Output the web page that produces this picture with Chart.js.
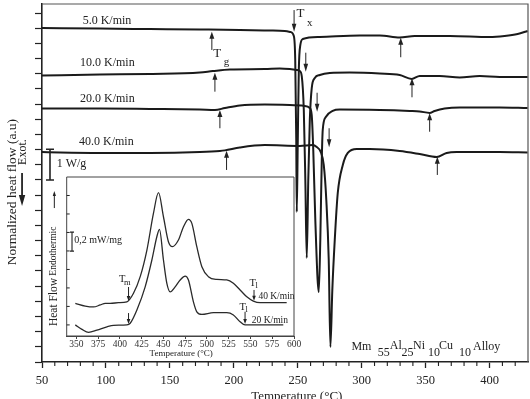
<!DOCTYPE html>
<html>
<head>
<meta charset="utf-8">
<script src="https://cdn.jsdelivr.net/npm/chart.js@4/dist/chart.umd.min.js"></script>
<style>
  html, body { margin: 0; padding: 0; background: #ffffff; }
  #wrap { position: relative; width: 530px; height: 399px; }
  #inset { position: absolute; left: 40px; top: 170px; }
</style>
</head>
<body>
<div id="wrap">
  <canvas id="main" width="530" height="399"></canvas>
  <canvas id="inset" width="262" height="192"></canvas>
</div>
<script>
// ---------------- DATA (main DSC traces, temperature in °C, normalized heat flow in a.u.) ----------------
const temps5  = [50, 95.3, 134.4, 173.4, 204.7, 228.1, 239.8, 244.5, 246.9, 248.0, 248.8, 249.2, 250.0, 250.8, 252.0, 253.9, 267.2, 298.4, 314.1, 329.7, 341.4, 368.8, 400, 411.7, 421.9, 429.7];
const flow5   = [22.02, 21.98, 21.95, 21.92, 21.89, 21.85, 21.82, 21.75, 21.49, 19.91, 14.63, 9.89, 14.63, 19.25, 20.90, 21.29, 21.42, 21.52, 21.52, 21.39, 21.49, 21.49, 21.42, 21.49, 21.62, 21.82];

const temps10 = [50, 95.3, 134.4, 173.4, 183.6, 196.9, 224.2, 235.9, 243.75, 249.2, 251.6, 253.1, 254.7, 255.9, 257.0, 258.2, 259.4, 260.9, 263.3, 267.2, 275.0, 290.6, 314.1, 329.7, 339.1, 345.3, 360.9, 376.6, 392.2, 407.8, 429.7];
const flow10  = [18.89, 18.95, 18.99, 19.08, 19.18, 19.28, 19.31, 19.35, 19.31, 19.25, 19.18, 18.85, 16.61, 12.00, 6.86, 12.00, 15.95, 18.06, 18.72, 18.92, 19.05, 19.08, 19.02, 18.92, 18.66, 18.85, 18.85, 18.75, 18.85, 18.79, 18.79];

const temps20 = [50, 95.3, 134.4, 173.4, 185.2, 193.0, 204.7, 224.2, 243.75, 255.5, 259.4, 260.9, 262.1, 263.7, 266.4, 267.6, 268.75, 269.5, 271.9, 277.3, 282.8, 314.1, 337.5, 345.3, 353.1, 357.0, 364.8, 376.6, 407.8, 429.7];
const flow20  = [16.71, 16.71, 16.68, 16.64, 16.61, 16.74, 16.91, 16.97, 16.94, 16.88, 16.74, 16.28, 13.98, 9.36, 4.61, 8.04, 13.32, 15.29, 16.15, 16.55, 16.64, 16.61, 16.55, 16.52, 16.42, 16.55, 16.71, 16.78, 16.78, 16.74];

const temps40 = [50, 64.1, 95.3, 134.4, 173.4, 189.1, 193.0, 204.7, 224.2, 251.6, 261.7, 264.8, 268.0, 270.3, 272.3, 274.2, 275.5, 277.0, 278.9, 281.25, 285.2, 289.1, 296.1, 306.25, 329.7, 345.3, 358.6, 366.4, 374.2, 407.8, 429.7];
const flow40  = [13.84, 13.81, 13.78, 13.78, 13.84, 13.91, 13.95, 14.14, 14.30, 14.24, 14.30, 14.17, 13.84, 12.99, 10.68, 6.72, 0.99, 4.75, 8.04, 11.14, 12.99, 13.78, 14.04, 14.04, 13.91, 13.71, 13.51, 13.78, 13.84, 13.84, 13.81];

const rateLabels = ['5.0 K/min', '10.0 K/min', '20.0 K/min', '40.0 K/min'];
const xTickValues = [50, 100, 150, 200, 250, 300, 350, 400];
const yTickValues = [0,1,2,3,4,5,6,7,8,9,10,11,12,13,14,15,16,17,18,19,20,21,22,23];

// ---------------- DATA (inset: melting region) ----------------
const insetTemps40 = [348.9, 360.3, 369.8, 377.5, 383.3, 389.0, 398.5, 408.1, 415.7, 423.4, 431.1, 438.6, 444.4, 450.1, 455.8, 460.4, 467.3, 473.1, 478.8, 482.7, 488.4, 494.2, 501.7, 511.4, 522.8, 530.4, 538.1, 545.8, 553.3, 561.0, 576.3, 591.6];
const insetFlow40  = [1.17, 1.02, 0.97, 1.08, 1.17, 1.17, 1.20, 1.25, 1.71, 2.61, 4.05, 6.03, 7.15, 5.85, 4.50, 4.23, 4.59, 5.31, 5.71, 5.49, 4.23, 3.15, 2.61, 2.46, 2.43, 2.25, 1.89, 1.52, 1.29, 1.20, 1.20, 1.20];
const insetTemps20 = [348.9, 356.5, 364.1, 373.7, 385.2, 392.8, 408.1, 411.9, 419.6, 429.1, 436.8, 442.5, 445.5, 450.1, 454.0, 457.8, 463.5, 469.3, 475.0, 478.8, 484.5, 488.4, 494.2, 507.5, 522.8, 530.4, 538.1, 543.8, 561.0, 587.7];
const insetFlow20  = [0.00, -0.24, -0.40, -0.28, -0.10, -0.02, 0.00, 0.09, 0.81, 2.06, 3.51, 4.77, 5.17, 3.51, 2.25, 1.79, 2.06, 2.43, 2.64, 2.43, 1.25, 0.71, 0.57, 0.66, 0.66, 0.54, 0.17, 0.00, 0.00, 0.00];
const insetXTicks  = [350, 375, 400, 425, 450, 475, 500, 525, 550, 575, 600];
const insetYTicks  = [0, 1, 2, 3, 4, 5, 6, 7];

// ---------------- helpers ----------------
const FAMILY = '"Liberation Serif", "Times New Roman", serif';
const INK = '#222222';
const pts = (xs, ys) => xs.map((x, i) => ({ x: x, y: ys[i] }));

function drawArrow(ctx, x, y1, y2, lw, hw, hl) {
  const dir = Math.sign(y2 - y1);
  ctx.lineWidth = lw;
  ctx.beginPath();
  ctx.moveTo(x, y1);
  ctx.lineTo(x, y2 - dir * hl * 0.5);
  ctx.stroke();
  ctx.beginPath();
  ctx.moveTo(x, y2);
  ctx.lineTo(x - hw, y2 - dir * hl);
  ctx.lineTo(x + hw, y2 - dir * hl);
  ctx.closePath();
  ctx.fill();
}
function drawBar(ctx, x, y1, y2, cap, lw) {
  ctx.lineWidth = lw;
  ctx.beginPath();
  ctx.moveTo(x, y1); ctx.lineTo(x, y2);
  ctx.moveTo(x - cap, y1); ctx.lineTo(x + cap, y1);
  ctx.moveTo(x - cap, y2); ctx.lineTo(x + cap, y2);
  ctx.stroke();
}

const annotPlugin = {
  id: 'annot',
  afterDraw(chart, args, o) {
    const ctx = chart.ctx;
    const xs = chart.scales.x, ys = chart.scales.y;
    const X = v => xs.getPixelForValue(v), Y = v => ys.getPixelForValue(v);
    const a = chart.chartArea;
    ctx.save();
    ctx.strokeStyle = INK; ctx.fillStyle = INK;
    if (o.frame) {
      ctx.strokeStyle = o.frame.color; ctx.lineWidth = o.frame.width;
      ctx.beginPath();
      if (o.frame.all) {
        ctx.rect(a.left, a.top, a.right - a.left, a.bottom - a.top);
      } else {
        ctx.moveTo(a.left, a.top); ctx.lineTo(a.right, a.top); ctx.lineTo(a.right, a.bottom);
      }
      ctx.stroke();
      ctx.strokeStyle = INK;
    }
    if (o.minorX) {
      ctx.lineWidth = o.minorX.width;
      ctx.beginPath();
      for (let v = o.minorX.from; v <= o.minorX.to; v += o.minorX.step) {
        if (o.minorX.skip.includes(v)) continue;
        const px = X(v);
        ctx.moveTo(px, a.bottom); ctx.lineTo(px, a.bottom + o.minorX.len);
      }
      ctx.stroke();
    }
    if (o.inwardY) {
      ctx.lineWidth = o.inwardY.width;
      ctx.beginPath();
      o.inwardY.values.forEach(v => { const py = Y(v); ctx.moveTo(a.left, py); ctx.lineTo(a.left + o.inwardY.len, py); });
      ctx.stroke();
    }
    (o.arrows || []).forEach(r => drawArrow(ctx, X(r.x), Y(r.from), Y(r.to), r.lw || 1, r.hw || 2.5, r.hl || 7));
    (o.bars || []).forEach(b => drawBar(ctx, X(b.x), Y(b.from), Y(b.to), b.cap, b.lw));
    (o.texts || []).forEach(t => {
      ctx.font = (t.size || 12) + 'px ' + FAMILY;
      ctx.textBaseline = 'middle';
      ctx.textAlign = t.align || 'center';
      if (t.rot) {
        ctx.save();
        ctx.translate(X(t.x), Y(t.y));
        ctx.rotate(t.rot * Math.PI / 180);
        ctx.fillText(t.t, 0, 0);
        ctx.restore();
      } else {
        ctx.fillText(t.t, X(t.x), Y(t.y));
      }
    });
    ctx.restore();
  }
};

const lineStyle = { borderColor: '#1a1a1a', borderWidth: 2, pointRadius: 0, tension: 0.3, cubicInterpolationMode: 'monotone', fill: false };

// ---------------- main chart ----------------
new Chart(document.getElementById('main'), {
  type: 'line',
  data: {
    datasets: [
      Object.assign({ label: rateLabels[0], data: pts(temps5, flow5) }, lineStyle),
      Object.assign({ label: rateLabels[1], data: pts(temps10, flow10) }, lineStyle),
      Object.assign({ label: rateLabels[2], data: pts(temps20, flow20) }, lineStyle),
      Object.assign({ label: rateLabels[3], data: pts(temps40, flow40) }, lineStyle)
    ]
  },
  plugins: [annotPlugin],
  options: {
    responsive: false, animation: false, devicePixelRatio: 1,
    layout: { padding: { left: 0, right: 2, top: 4, bottom: 0 } },
    plugins: {
      legend: { display: false }, tooltip: { enabled: false },
      annot: {
        frame: { color: '#555555', width: 1.2 },
        minorX: { from: 60, to: 420, step: 10, skip: xTickValues, len: 4, width: 1.1 },
        arrows: [
          { x: 182.8, from: 20.57, to: 21.77 },
          { x: 185.2, from: 17.82, to: 19.07 },
          { x: 189.1, from: 15.41, to: 16.61 },
          { x: 194.3, from: 12.66, to: 13.93 },
          { x: 330.5, from: 20.09, to: 21.38 },
          { x: 339.3, from: 17.45, to: 18.70 },
          { x: 353.1, from: 15.18, to: 16.39 },
          { x: 359.1, from: 12.33, to: 13.53 },
          { x: 247.1, from: 23.20, to: 21.77, hw: 2.3, hl: 8 },
          { x: 256.25, from: 20.39, to: 19.14, hw: 2.3, hl: 8 },
          { x: 265.1, from: 17.75, to: 16.50, hw: 2.3, hl: 8 },
          { x: 274.5, from: 15.41, to: 14.15, hw: 2.3, hl: 8 },
          { x: 34.4, from: 12.46, to: 10.28, lw: 1.8, hw: 3.2, hl: 11 }
        ],
        bars: [ { x: 56.25, from: 12.0, to: 14.02, cap: 4, lw: 1.6 } ],
        texts: [
          { t: rateLabels[0], x: 81.8, y: 22.50, size: 12, align: 'left' },
          { t: rateLabels[1], x: 79.7, y: 19.69, size: 12, align: 'left' },
          { t: rateLabels[2], x: 79.7, y: 17.38, size: 12, align: 'left' },
          { t: rateLabels[3], x: 78.9, y: 14.52, size: 12, align: 'left' },
          { t: '1 W/g', x: 61.5, y: 13.03, size: 12, align: 'left' },
          { t: 'T', x: 252.1, y: 22.99, size: 13 },
          { t: 'x', x: 259.4, y: 22.37, size: 11 },
          { t: 'T', x: 186.95, y: 20.30, size: 13 },
          { t: 'g', x: 194.3, y: 19.76, size: 11 },
          { t: 'Exot.', x: 35.2, y: 13.84, size: 12, rot: -90 },
          { t: 'Normalized heat flow (a.u)', x: 26.6, y: 11.2, size: 13.5, rot: -90 },
          { t: 'Temperature (°C)', x: 249.2, y: -2.31, size: 13 },
          { t: 'Mm', x: 291.95, y: 1.02, size: 12, align: 'left' },
          { t: '55', x: 312.5, y: 0.59, size: 12, align: 'left' },
          { t: 'Al', x: 321.9, y: 1.07, size: 12, align: 'left' },
          { t: '25', x: 331.0, y: 0.59, size: 12, align: 'left' },
          { t: 'Ni', x: 340.1, y: 1.07, size: 12, align: 'left' },
          { t: '10', x: 351.8, y: 0.59, size: 12, align: 'left' },
          { t: 'Cu', x: 360.4, y: 1.07, size: 12, align: 'left' },
          { t: '10', x: 376.0, y: 0.59, size: 12, align: 'left' },
          { t: 'Alloy', x: 387.0, y: 1.02, size: 12, align: 'left' }
        ]
      }
    },
    scales: {
      x: {
        type: 'linear', min: 50, max: 430,
        afterFit(s) { s.height = 37; },
        afterBuildTicks(s) { s.ticks = xTickValues.map(v => ({ value: v })); },
        grid: { drawOnChartArea: false, drawTicks: true, tickLength: 6, tickWidth: 1.3, tickColor: INK },
        border: { display: true, color: INK, width: 1.6 },
        ticks: { font: { family: FAMILY, size: 12.5 }, color: INK, padding: 5, maxRotation: 0, autoSkip: false }
      },
      y: {
        type: 'linear', min: 0, max: 23.6,
        afterFit(s) { s.width = 42; },
        afterBuildTicks(s) { s.ticks = yTickValues.map(v => ({ value: v })); },
        grid: { drawOnChartArea: false, drawTicks: true, tickLength: 7, tickWidth: 1.2, tickColor: INK },
        border: { display: true, color: INK, width: 1.6 },
        ticks: { display: false }
      }
    }
  }
});

// ---------------- inset chart ----------------
const insetLine = { borderColor: '#2a2a2a', borderWidth: 1.3, pointRadius: 0, tension: 0.3, cubicInterpolationMode: 'monotone', fill: false };
new Chart(document.getElementById('inset'), {
  type: 'line',
  data: {
    datasets: [
      Object.assign({ label: '40 K/min', data: pts(insetTemps40, insetFlow40) }, insetLine),
      Object.assign({ label: '20 K/min', data: pts(insetTemps20, insetFlow20) }, insetLine)
    ]
  },
  plugins: [annotPlugin],
  options: {
    responsive: false, animation: false, devicePixelRatio: 1,
    layout: { padding: { left: 26.7, right: 8, top: 7, bottom: 0 } },
    plugins: {
      legend: { display: false }, tooltip: { enabled: false },
      annot: {
        frame: { color: '#444444', width: 1, all: true },
        inwardY: { values: insetYTicks, len: 3, width: 1 },
        arrows: [
          { x: 324.8, from: 6.32, to: 7.24, lw: 1, hw: 1.6, hl: 5 },
          { x: 410.0, from: 2.05, to: 1.29, lw: 1, hw: 1.8, hl: 5 },
          { x: 410.0, from: 0.64, to: 0.05, lw: 1, hw: 1.8, hl: 5 },
          { x: 554.1, from: 1.89, to: 1.31, lw: 1, hw: 1.8, hl: 5 },
          { x: 543.8, from: 0.71, to: 0.05, lw: 1, hw: 1.8, hl: 5 }
        ],
        bars: [ { x: 345.1, from: 3.99, to: 5.02, cap: 2, lw: 1.1 } ],
        texts: [
          { t: 'Heat Flow', x: 324.0, y: 1.24, size: 11.5, rot: -90 },
          { t: 'Endothermic', x: 324.0, y: 3.99, size: 9.5, rot: -90 },
          { t: '0,2 mW/mg', x: 347.7, y: 4.55, size: 10, align: 'left' },
          { t: 'T', x: 402.8, y: 2.48, size: 10.5 },
          { t: 'm', x: 408.5, y: 2.26, size: 8.5 },
          { t: 'T', x: 552.6, y: 2.25, size: 10.5 },
          { t: 'l', x: 557.2, y: 2.10, size: 8.5 },
          { t: '40 K/min', x: 559.1, y: 1.52, size: 9.5, align: 'left' },
          { t: 'T', x: 541.2, y: 0.98, size: 10.5 },
          { t: 'l', x: 545.8, y: 0.83, size: 8.5 },
          { t: '20 K/min', x: 551.5, y: 0.26, size: 9.5, align: 'left' },
          { t: 'Temperature (°C)', x: 470.4, y: -1.57, size: 9 }
        ]
      }
    },
    scales: {
      x: {
        type: 'linear', min: 339, max: 600,
        afterFit(s) { s.height = 26; },
        afterBuildTicks(s) { s.ticks = insetXTicks.map(v => ({ value: v })); },
        grid: { drawOnChartArea: false, drawTicks: true, tickLength: 3, tickWidth: 1, tickColor: '#444444' },
        border: { display: true, color: '#444444', width: 1 },
        ticks: { font: { family: FAMILY, size: 9.5 }, color: '#333333', padding: 0, maxRotation: 0, autoSkip: false }
      },
      y: { type: 'linear', min: -0.6, max: 8, display: false }
    }
  }
});
</script>
</body>
</html>
